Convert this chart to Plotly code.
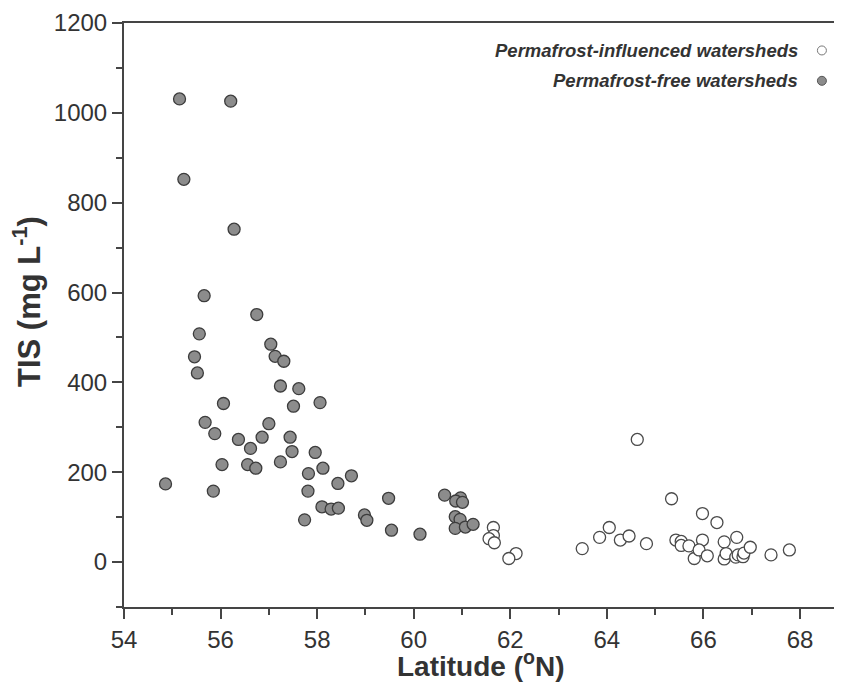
import plotly.graph_objects as go

# Permafrost-free watersheds (filled grey)
free_lat = [54.86, 55.15, 55.24, 56.21, 56.28, 55.66, 56.75, 55.56, 57.04, 55.46,
            57.13, 57.31, 55.52, 57.24, 57.62, 57.51, 58.06, 56.06, 55.68, 57.00,
            55.88, 56.37, 56.86, 57.44, 56.62, 57.48, 57.96, 56.03, 56.56, 56.73,
            57.24, 58.12, 57.82, 58.71, 58.43, 55.85, 57.81, 58.10, 58.29, 58.44,
            57.74, 58.98, 59.03, 59.48, 59.54, 60.13, 60.64, 60.97, 60.87, 61.01,
            60.86, 60.96, 60.86, 61.07, 61.23]
free_tis = [174, 1031, 852, 1026, 741, 593, 551, 508, 485, 457,
            458, 447, 421, 392, 386, 347, 355, 353, 311, 308,
            286, 273, 278, 278, 253, 246, 244, 217, 217, 209,
            223, 209, 197, 192, 175, 158, 158, 123, 118, 120,
            94, 105, 93, 142, 71, 62, 149, 143, 136, 133,
            101, 95, 75, 78, 84]

# Permafrost-influenced watersheds (open)
perm_lat = [61.65, 61.65, 61.56, 61.67, 62.12, 61.97, 63.49, 63.85, 64.05, 64.28,
            64.46, 64.63, 64.82, 65.34, 65.43, 65.54, 65.54, 65.70, 65.81, 65.98,
            65.98, 65.91, 66.08, 66.28, 66.43, 66.43, 66.47, 66.69, 66.67, 66.72,
            66.82, 66.84, 66.97, 67.40, 67.78]
perm_tis = [77, 59, 52, 43, 19, 8, 30, 55, 77, 49,
            58, 273, 41, 141, 49, 46, 37, 36, 8, 108,
            49, 27, 14, 88, 45, 7, 19, 55, 11, 16,
            12, 20, 33, 16, 27]

legend_labels = ["Permafrost-influenced watersheds", "Permafrost-free watersheds"]
x_title = "Latitude (<sup>o</sup>N)"
y_title = "TIS (mg L<sup>-1</sup>)"
x_ticks = [54, 56, 58, 60, 62, 64, 66, 68]
y_ticks = [0, 200, 400, 600, 800, 1000, 1200]

AX = "#454545"
TXT = "#333333"
FONT = "Liberation Sans, Arial, sans-serif"

fig = go.Figure()
fig.add_trace(go.Scatter(
    x=free_lat, y=free_tis, mode="markers", name=legend_labels[1],
    marker=dict(size=12, color="#8c8c8c", line=dict(color="#3c3c3c", width=1.3)),
    showlegend=False))
fig.add_trace(go.Scatter(
    x=perm_lat, y=perm_tis, mode="markers", name=legend_labels[0],
    marker=dict(size=12, color="white", line=dict(color="#4a4a4a", width=1.3)),
    showlegend=False))

# Legend (text left of symbol, as in the reference)
leg_y = [0.953, 0.901]
leg_fill = ["white", "#8c8c8c"]
leg_line = ["#777777", "#555555"]
for lbl, yy, fc, lc in zip(legend_labels, leg_y, leg_fill, leg_line):
    fig.add_annotation(x=0.942, y=yy, xref="paper", yref="paper",
                       text="<b><i>" + lbl + "</i></b>",
                       showarrow=False, xanchor="right", yanchor="middle",
                       font=dict(family=FONT, size=18.5, color=TXT))
    fig.add_shape(type="circle", xref="paper", yref="paper",
                  xsizemode="pixel", ysizemode="pixel",
                  xanchor=0.972, yanchor=yy, x0=-4.5, x1=4.5, y0=-4.5, y1=4.5,
                  fillcolor=fc, line=dict(color=lc, width=1))

# Axis titles
fig.add_annotation(x=0.497, y=-0.098, xref="paper", yref="paper",
                   text="<b>" + x_title + "</b>", showarrow=False,
                   xanchor="center", yanchor="middle",
                   font=dict(family=FONT, size=28, color=TXT))
fig.add_annotation(x=-0.1351, y=0.524, xref="paper", yref="paper",
                   text="<b>" + y_title + "</b>", showarrow=False, textangle=-90,
                   xanchor="center", yanchor="middle",
                   font=dict(family=FONT, size=31, color=TXT))

# the page adds an 8 px body margin, so the margins are reduced by 8 px
fig.update_layout(
    width=842, height=696,
    margin=dict(l=116, r=8, t=15, b=97),
    paper_bgcolor="white", plot_bgcolor="white",
    font=dict(family=FONT, color=TXT),
    showlegend=False,
)

fig.update_xaxes(
    range=[54, 68.87], tickvals=x_ticks, ticktext=[str(v) for v in x_ticks],
    showline=True, linecolor=AX, linewidth=2, mirror=True,
    ticks="outside", ticklen=10, tickwidth=2, tickcolor=AX,
    minor=dict(dtick=1, tick0=54, ticks="outside", ticklen=6, tickwidth=2, tickcolor=AX),
    showgrid=False, zeroline=False, automargin=False, ticklabeloverflow="allow",
    tickfont=dict(size=24, color=TXT, family=FONT),
)
fig.update_yaxes(
    range=[-100, 1200], tickvals=y_ticks, ticktext=[str(v) for v in y_ticks],
    showline=True, linecolor=AX, linewidth=2,
    ticks="outside", ticklen=10, tickwidth=2, tickcolor=AX,
    minor=dict(dtick=100, tick0=0, ticks="outside", ticklen=6, tickwidth=2, tickcolor=AX),
    showgrid=False, zeroline=False, automargin=False, ticklabeloverflow="allow",
    tickfont=dict(size=24, color=TXT, family=FONT),
)

fig.write_html("out.html")
